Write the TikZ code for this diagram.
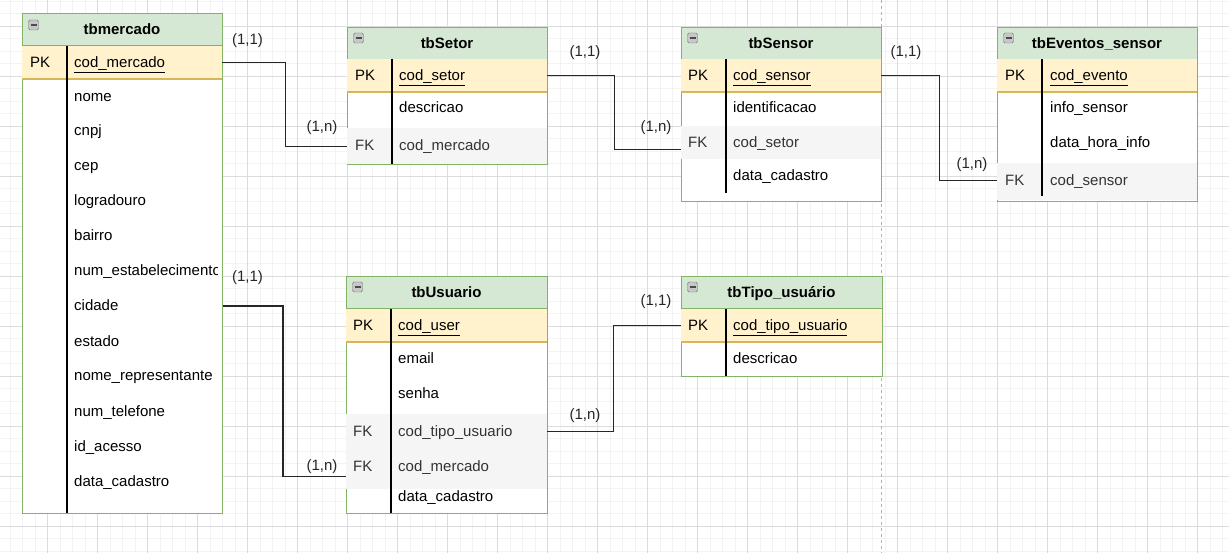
\documentclass[tikz,border=0pt]{standalone}
\usepackage{fontspec}
\setmainfont{Liberation Sans}
\usepackage{tikz}
\usetikzlibrary{positioning}

\definecolor{hdrgreen}{HTML}{D5E8D4}
\definecolor{bordgreen}{HTML}{82B366}
\definecolor{pkyellow}{HTML}{FFF2CC}
\definecolor{pkline}{HTML}{D6B656}
\definecolor{fkgray}{HTML}{F5F5F5}
\definecolor{gridmajor}{HTML}{DCDCDC}
\definecolor{gridminor}{HTML}{F3F3F3}

\begin{document}
\begin{tikzpicture}[x=1pt, y=-1pt,
  font=\fontsize{15}{18}\selectfont,
  tbl/.style={draw=bordgreen, line width=0.9pt, fill=white, inner sep=0pt, anchor=north west},
  head/.style={draw=bordgreen, line width=0.9pt, fill=hdrgreen, inner sep=0pt, minimum height=32pt,
    anchor=north, text height=12pt, text depth=2pt, font=\fontsize{15}{18}\selectfont\bfseries},
  pkrow/.style={fill=pkyellow, inner sep=0pt, minimum height=33pt, anchor=north,
    path picture={\draw[pkline, line width=2pt] (path picture bounding box.south west) -- (path picture bounding box.south east);}},
  fkrow/.style={fill=fkgray, inner sep=0pt, anchor=north},
  txt/.style={anchor=west, inner sep=0pt, text height=12pt, text depth=2pt},
  fktxt/.style={txt, text=black!80},
  divider/.style={line width=1.4pt},
  link/.style={line width=1.2pt, black!85},
  card/.style={inner sep=0pt, text=black!85},
  btn/.style={draw=black!55, fill=black!22, rounded corners=1.5pt, minimum size=10pt, inner sep=0pt,
    path picture={\draw[black!70, line width=1.3pt] ([xshift=-3pt]path picture bounding box.center) -- ([xshift=3pt]path picture bounding box.center);}}
]

\useasboundingbox (0,0) rectangle (1229,553);

% grid background
\fill[white] (0,0) rectangle (1229,553);
\foreach \i in {0,...,98} \draw[gridminor, line width=0.8pt] (-2.3+12.5*\i,0) -- (-2.3+12.5*\i,553);
\foreach \i in {0,...,44} \draw[gridminor, line width=0.8pt] (0,1+12.5*\i) -- (1229,1+12.5*\i);
\foreach \i in {1,...,24} \draw[gridmajor, line width=0.8pt] (-2.3+50*\i,0) -- (-2.3+50*\i,553);
\foreach \i in {0,...,10} \draw[gridmajor, line width=0.8pt] (0,26+50*\i) -- (1229,26+50*\i);
\draw[black!30, line width=1pt, dash pattern=on 3pt off 3pt] (881.5,0) -- (881.5,553);

% tbmercado
\node[tbl, minimum width=200pt, minimum height=500pt] (merc) at (22,13) {};
\node[head, minimum width=200pt] (mercH) at (122,13) {tbmercado};
\node[btn] (mercB) at (33.5,25) {};
\node[pkrow, minimum width=200pt] (mercPK) at (122,46) {};
\draw[divider] (67,46) -- (67,513);
\node[txt] (mercPKk) at (30,62.5) {PK};
\node[txt] (mercPKf) at (74,62.5) {\underline{cod\_mercado}};
\node[txt] (mercNome) at (74,96.5) {nome};
\node[txt] (mercCnpj) at (74,131) {cnpj};
\node[txt] (mercCep) at (74,166) {cep};
\node[txt] (mercLog) at (74,201) {logradouro};
\node[txt] (mercBai) at (74,236) {bairro};
\begin{scope}
  \clip (68,255) rectangle (217,290);
  \node[txt] (mercNum) at (74,271) {num\_estabelecimento};
\end{scope}
\node[txt] (mercCid) at (74,306) {cidade};
\node[txt] (mercEst) at (74,341) {estado};
\node[txt] (mercRep) at (74,376) {nome\_representante};
\node[txt] (mercTel) at (74,411) {num\_telefone};
\node[txt] (mercAce) at (74,446) {id\_acesso};
\node[txt] (mercDat) at (74,481) {data\_cadastro};

% tbSetor
\node[tbl, minimum width=200pt, minimum height=137pt] (set) at (347,27) {};
\node[head, minimum width=200pt] (setH) at (447,27) {tbSetor};
\node[btn] (setB) at (358.5,38) {};
\node[pkrow, minimum width=200pt] (setPK) at (447,59) {};
\node[fkrow, minimum width=200pt, minimum height=36pt] (setFK) at (447,128) {};
\draw[divider] (392,59) -- (392,164);
\node[txt] (setPKk) at (355,75.5) {PK};
\node[txt] (setPKf) at (399,75.5) {\underline{cod\_setor}};
\node[txt] (setDes) at (399,108) {descricao};
\node[fktxt] (setFKk) at (355,146) {FK};
\node[fktxt] (setFKf) at (399,146) {cod\_mercado};

% tbSensor
\node[tbl, minimum width=200pt, minimum height=174pt] (sens) at (681,27) {};
\node[head, minimum width=200pt] (sensH) at (781,27) {tbSensor};
\node[btn] (sensB) at (692.5,38) {};
\node[pkrow, minimum width=200pt] (sensPK) at (781,59) {};
\node[fkrow, minimum width=200pt, minimum height=33pt] (sensFK) at (781,126) {};
\draw[divider] (726,59) -- (726,193);
\node[txt] (sensPKk) at (688,75.5) {PK};
\node[txt] (sensPKf) at (733,75.5) {\underline{cod\_sensor}};
\node[txt] (sensIde) at (733,108) {identificacao};
\node[fktxt] (sensFKk) at (688,142.5) {FK};
\node[fktxt] (sensFKf) at (733,142.5) {cod\_setor};
\node[txt] (sensDat) at (733,176) {data\_cadastro};

% tbEventos_sensor
\node[tbl, minimum width=200pt, minimum height=174pt] (evt) at (997,27) {};
\node[head, minimum width=200pt] (evtH) at (1097,27) {tbEventos\_sensor};
\node[btn] (evtB) at (1008.5,38) {};
\node[pkrow, minimum width=200pt] (evtPK) at (1097,59) {};
\node[fkrow, minimum width=200pt, minimum height=37pt] (evtFK) at (1097,163) {};
\draw[divider] (1042,59) -- (1042,196);
\node[txt] (evtPKk) at (1005,75.5) {PK};
\node[txt] (evtPKf) at (1050,75.5) {\underline{cod\_evento}};
\node[txt] (evtInf) at (1050,108) {info\_sensor};
\node[txt] (evtDat) at (1050,143) {data\_hora\_info};
\node[fktxt] (evtFKk) at (1005,181) {FK};
\node[fktxt] (evtFKf) at (1050,181) {cod\_sensor};

% tbUsuario
\node[tbl, minimum width=201pt, minimum height=237pt] (usu) at (346,276) {};
\node[head, minimum width=201pt] (usuH) at (446.5,276) {tbUsuario};
\node[btn] (usuB) at (357.5,287) {};
\node[pkrow, minimum width=201pt] (usuPK) at (446.5,309) {};
\node[fkrow, minimum width=201pt, minimum height=35pt] (usuFKt) at (446.5,414) {};
\node[fkrow, minimum width=201pt, minimum height=40pt] (usuFKm) at (446.5,449) {};
\draw[divider] (391,309) -- (391,513);
\node[txt] (usuPKk) at (353,325.5) {PK};
\node[txt] (usuPKf) at (398,325.5) {\underline{cod\_user}};
\node[txt] (usuEma) at (398,358) {email};
\node[txt] (usuSen) at (398,393) {senha};
\node[fktxt] (usuFKtk) at (353,431) {FK};
\node[fktxt] (usuFKtf) at (398,431) {cod\_tipo\_usuario};
\node[fktxt] (usuFKmk) at (353,466) {FK};
\node[fktxt] (usuFKmf) at (398,466) {cod\_mercado};
\node[txt] (usuDat) at (398,496) {data\_cadastro};

% tbTipo_usuário
\node[tbl, minimum width=201pt, minimum height=100pt] (tipo) at (681,276) {};
\node[head, minimum width=201pt] (tipoH) at (781.5,276) {tbTipo\_usuário};
\node[btn] (tipoB) at (692.5,287) {};
\node[pkrow, minimum width=201pt] (tipoPK) at (781.5,309) {};
\draw[divider] (726,309) -- (726,376);
\node[txt] (tipoPKk) at (688,325.5) {PK};
\node[txt] (tipoPKf) at (733,325.5) {\underline{cod\_tipo\_usuario}};
\node[txt] (tipoDes) at (733,358) {descricao};

% relacionamentos
\draw[link] (mercPK.east) -- ++(63,0) |- (setFK.west);
\draw[link] (setPK.east) -- ++(67,0) |- ([yshift=-7pt]sensFK.west);
\draw[link] (sensPK.east) -- ++(58,0) |- ([yshift=1pt]evtFK.west);
\draw[link] (merc.east |- mercCid) -- ++(60,0) |- ([yshift=-7pt]usuFKm.west);
\draw[link] (usuFKt.east) -- ++(66,0) |- (tipoPK.west);

\node[card] (mercSet1) at (247.5,41) {(1,1)};
\node[card] (mercSetN) at (322,128) {(1,n)};
\node[card] (setSens1) at (585,53) {(1,1)};
\node[card] (setSensN) at (656,128) {(1,n)};
\node[card] (sensEvt1) at (906,53) {(1,1)};
\node[card] (sensEvtN) at (972,165) {(1,n)};
\node[card] (mercUsu1) at (247.5,278) {(1,1)};
\node[card] (mercUsuN) at (322,467) {(1,n)};
\node[card] (usuTipoN) at (585,416) {(1,n)};
\node[card] (usuTipo1) at (656,302) {(1,1)};

\end{tikzpicture}
\end{document}
